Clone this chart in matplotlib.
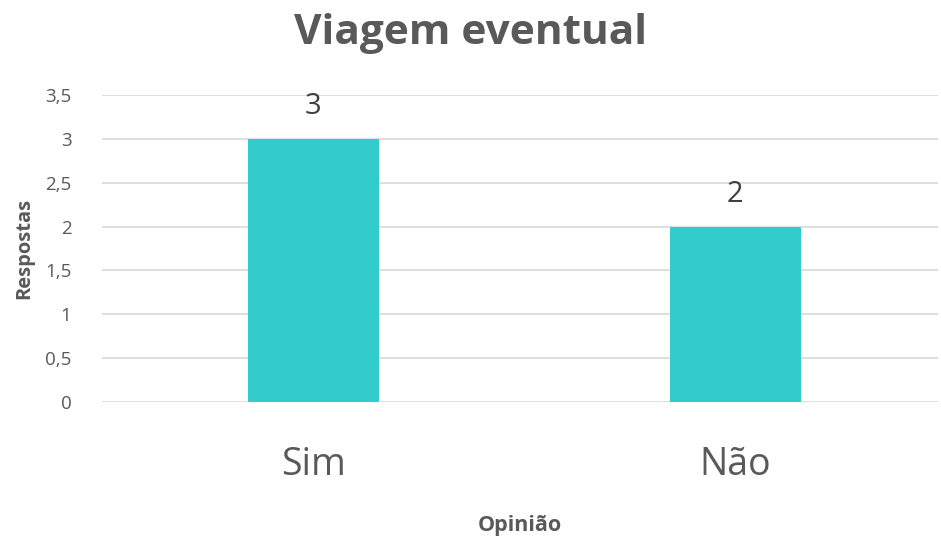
import matplotlib.pyplot as plt

plt.rcParams['font.family'] = ['Open Sans', 'DejaVu Sans']

categorias = ['Sim', 'Não']
respostas = [3, 2]
yticks = [0, 0.5, 1, 1.5, 2, 2.5, 3, 3.5]
ytick_labels = ['0', '0,5', '1', '1,5', '2', '2,5', '3', '3,5']

fig = plt.figure(figsize=(9.41, 5.37), dpi=100)
ax = fig.add_axes([102 / 941, 1 - 402 / 537, 836 / 941, 307 / 537])

x = range(len(categorias))
bars = ax.bar(x, respostas, width=0.31, color='#33CCCC', zorder=3)
for b, v in zip(bars, respostas):
    ax.text(b.get_x() + b.get_width() / 2, v + 0.2, str(v), ha='center', va='bottom',
            fontsize=21, color='#404040')

ax.set_xlim(-0.5, 1.48)
ax.set_ylim(0, 3.5)
ax.set_yticks(yticks)
ax.set_yticklabels(ytick_labels)
ax.set_xticks(list(x))
ax.set_xticklabels(categorias)
ax.tick_params(axis='y', length=0, pad=22, labelsize=13.5, labelcolor='#595959')
ax.tick_params(axis='x', length=0, pad=32, labelsize=27, labelcolor='#595959')
ax.grid(axis='y', color='#d9d9d9', linewidth=1.2, zorder=0)
for s in ax.spines.values():
    s.set_visible(False)

ax.set_ylabel('Respostas', fontsize=14.5, fontweight='bold', color='#595959', labelpad=8)
ax.set_xlabel('Opinião', fontsize=15.5, fontweight='bold', color='#595959', labelpad=22)
fig.text(0.5, 0.938, 'Viagem eventual', ha='center', va='center', fontsize=30.5,
         fontweight='bold', color='#595959')

fig.savefig('out.png', dpi=100)
